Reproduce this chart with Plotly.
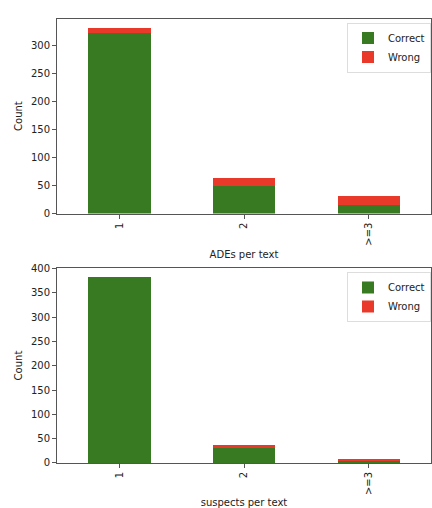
import plotly.graph_objects as go

categories = ["1", "2", ">=3"]
ades_correct = [323, 50, 16]
ades_wrong = [9, 14, 15]
suspects_correct = [383, 30, 5]
suspects_wrong = [0, 7, 4]
y_ticks_top = [0, 50, 100, 150, 200, 250, 300]
y_ticks_bottom = [0, 50, 100, 150, 200, 250, 300, 350, 400]

GREEN = "#377a22"
RED = "#e8392a"
W, H = 432, 508
FONT = dict(family="DejaVu Sans", size=10, color="#222222")

fig = go.Figure()
fig.add_bar(x=categories, y=ades_correct, name="Correct", marker_color=GREEN,
            width=0.5, xaxis="x", yaxis="y", legend="legend")
fig.add_bar(x=categories, y=ades_wrong, name="Wrong", marker_color=RED,
            width=0.5, xaxis="x", yaxis="y", legend="legend")
fig.add_bar(x=categories, y=suspects_correct, name="Correct", marker_color=GREEN,
            width=0.5, xaxis="x2", yaxis="y2", legend="legend2")
fig.add_bar(x=categories, y=suspects_wrong, name="Wrong", marker_color=RED,
            width=0.5, xaxis="x2", yaxis="y2", legend="legend2")
fig.update_traces(marker_line_width=0)

def px_x(p):
    return p / W

def px_y(p):
    return 1 - p / H

axis_common = dict(showline=True, linecolor="#555555", linewidth=1, mirror=True,
                   ticks="outside", ticklen=4, tickcolor="#555555",
                   showgrid=False, zeroline=False, tickfont=FONT)

xdom = [px_x(57), px_x(431)]
fig.update_layout(
    width=W, height=H,
    margin=dict(l=0, r=0, t=0, b=0),
    paper_bgcolor="white", plot_bgcolor="white",
    barmode="stack", font=FONT,
    xaxis=dict(domain=xdom, anchor="y", range=[-0.5, 2.5], tickangle=-90,
               title=dict(text="ADEs per text", font=FONT, standoff=6), **axis_common),
    yaxis=dict(domain=[px_y(214), px_y(14)], anchor="x", range=[0, 348],
               tickvals=y_ticks_top,
               title=dict(text="Count", font=FONT, standoff=6), **axis_common),
    xaxis2=dict(domain=xdom, anchor="y2", range=[-0.5, 2.5], tickangle=-90,
                title=dict(text="suspects per text", font=FONT, standoff=6), **axis_common),
    yaxis2=dict(domain=[px_y(470), px_y(270)], anchor="x2", range=[0, 401],
                tickvals=y_ticks_bottom,
                title=dict(text="Count", font=FONT, standoff=6), **axis_common),
    legend=dict(x=px_x(347), y=px_y(18), xanchor="left", yanchor="top",
                bordercolor="#dddddd", borderwidth=1, bgcolor="white",
                font=FONT, traceorder="normal", tracegroupgap=0, itemwidth=30),
    legend2=dict(x=px_x(347), y=px_y(274), xanchor="left", yanchor="top",
                 bordercolor="#dddddd", borderwidth=1, bgcolor="white",
                 font=FONT, traceorder="normal", tracegroupgap=0, itemwidth=30),
)

fig.write_html("out.html", config={"displayModeBar": False},
               post_script="document.body.style.margin='0';document.body.style.overflow='hidden';")
